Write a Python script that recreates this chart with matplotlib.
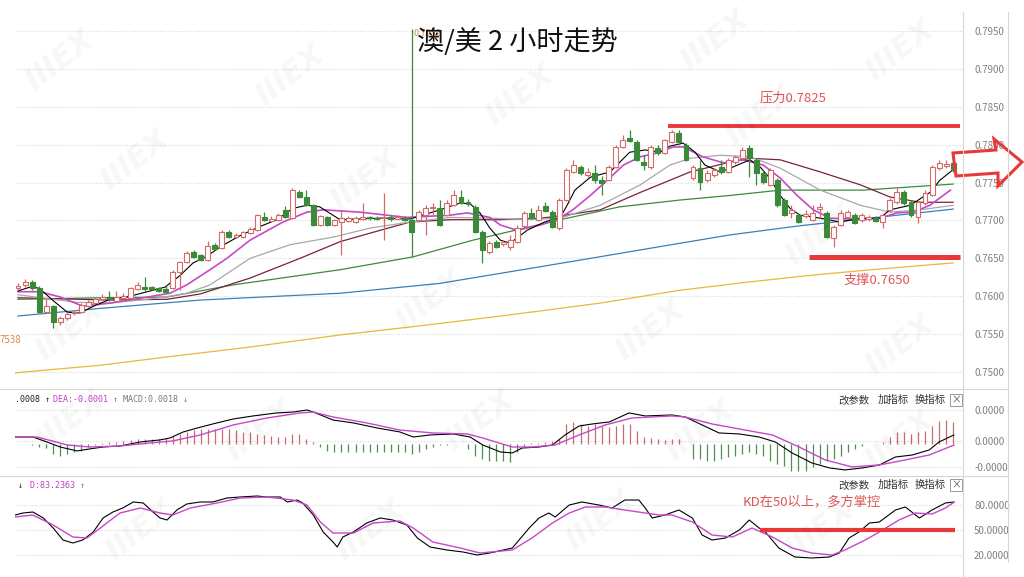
import matplotlib
matplotlib.use("Agg")
import matplotlib.pyplot as plt
from matplotlib.patches import Polygon, Rectangle
from matplotlib.lines import Line2D

plt.rcParams['font.family'] = ['Noto Sans CJK SC', 'DejaVu Sans']

# ---- candles (AUD/USD, 2h) ----
opens = [
    0.7611, 0.7615, 0.7619, 0.7611, 0.7579, 0.7587, 0.7566, 0.7571, 0.7578, 0.7579,
    0.7587, 0.7591, 0.7596, 0.7599, 0.7594, 0.7598, 0.7598, 0.7610, 0.7612, 0.7612,
    0.7611, 0.7610, 0.7611, 0.7632, 0.7645, 0.7658, 0.7654, 0.7648, 0.7668, 0.7664,
    0.7685, 0.7678, 0.7678, 0.7683, 0.7687, 0.7704, 0.7699, 0.7701, 0.7714, 0.7703,
    0.7737, 0.7731, 0.7720, 0.7694, 0.7704, 0.7694, 0.7698, 0.7699, 0.7698, 0.7702,
    0.7704, 0.7703, 0.7703, 0.7704, 0.7702, 0.7703, 0.7701, 0.7701, 0.7707, 0.7716,
    0.7716, 0.7707, 0.7720, 0.7731, 0.7724, 0.7718, 0.7685, 0.7658, 0.7672, 0.7669,
    0.7665, 0.7672, 0.7693, 0.7710, 0.7701, 0.7719, 0.7711, 0.7690, 0.7727, 0.7764,
    0.7771, 0.7760, 0.7763, 0.7753, 0.7753, 0.7771, 0.7797, 0.7809, 0.7804, 0.7777,
    0.7771, 0.7796, 0.7789, 0.7804, 0.7816, 0.7800, 0.7756, 0.7769, 0.7753, 0.7760,
    0.7771, 0.7764, 0.7777, 0.7782, 0.7796, 0.7780, 0.7763, 0.7747, 0.7753, 0.7727,
    0.7710, 0.7707, 0.7706, 0.7701, 0.7715, 0.7710, 0.7677, 0.7694, 0.7704, 0.7707,
    0.7701, 0.7702, 0.7703, 0.7698, 0.7714, 0.7724, 0.7737, 0.7724, 0.7704, 0.7723,
    0.7733, 0.7769, 0.7772, 0.7776]
highs = [
    0.7617, 0.7623, 0.7621, 0.7613, 0.7598, 0.7588, 0.7574, 0.7579, 0.7582, 0.7591,
    0.7595, 0.7599, 0.7603, 0.7607, 0.7607, 0.7604, 0.7612, 0.7619, 0.7625, 0.7613,
    0.7612, 0.7615, 0.7635, 0.7646, 0.7660, 0.7661, 0.7656, 0.7673, 0.7670, 0.7687,
    0.7687, 0.7683, 0.7686, 0.7691, 0.7708, 0.7711, 0.7706, 0.7710, 0.7719, 0.7743,
    0.7740, 0.7740, 0.7722, 0.7707, 0.7706, 0.7702, 0.7714, 0.7706, 0.7706, 0.7723,
    0.7706, 0.7706, 0.7736, 0.7707, 0.7707, 0.7706, 0.7952, 0.7714, 0.7720, 0.7723,
    0.7727, 0.7727, 0.7740, 0.7740, 0.7728, 0.7720, 0.7687, 0.7673, 0.7674, 0.7674,
    0.7681, 0.7694, 0.7712, 0.7716, 0.7720, 0.7724, 0.7714, 0.7730, 0.7769, 0.7780,
    0.7773, 0.7769, 0.7773, 0.7759, 0.7773, 0.7800, 0.7813, 0.7819, 0.7806, 0.7786,
    0.7800, 0.7800, 0.7808, 0.7819, 0.7819, 0.7802, 0.7773, 0.7780, 0.7766, 0.7769,
    0.7780, 0.7782, 0.7786, 0.7797, 0.7800, 0.7782, 0.7767, 0.7769, 0.7756, 0.7730,
    0.7720, 0.7710, 0.7714, 0.7720, 0.7723, 0.7712, 0.7694, 0.7714, 0.7714, 0.7710,
    0.7710, 0.7707, 0.7706, 0.7710, 0.7730, 0.7743, 0.7740, 0.7727, 0.7727, 0.7740,
    0.7773, 0.7780, 0.7780, 0.7780]
lows = [
    0.7608, 0.7612, 0.7608, 0.7578, 0.7578, 0.7558, 0.7562, 0.7569, 0.7575, 0.7578,
    0.7586, 0.7590, 0.7595, 0.7594, 0.7592, 0.7596, 0.7596, 0.7608, 0.7607, 0.7608,
    0.7606, 0.7604, 0.7610, 0.7608, 0.7644, 0.7650, 0.7646, 0.7646, 0.7661, 0.7662,
    0.7677, 0.7677, 0.7677, 0.7682, 0.7686, 0.7699, 0.7698, 0.7699, 0.7703, 0.7702,
    0.7730, 0.7719, 0.7693, 0.7693, 0.7693, 0.7693, 0.7654, 0.7698, 0.7697, 0.7701,
    0.7701, 0.7701, 0.7674, 0.7699, 0.7702, 0.7699, 0.7652, 0.7698, 0.7681, 0.7706,
    0.7693, 0.7706, 0.7719, 0.7722, 0.7719, 0.7683, 0.7644, 0.7656, 0.7664, 0.7666,
    0.7661, 0.7670, 0.7690, 0.7702, 0.7699, 0.7711, 0.7690, 0.7687, 0.7726, 0.7763,
    0.7760, 0.7757, 0.7749, 0.7733, 0.7752, 0.7769, 0.7796, 0.7804, 0.7778, 0.7767,
    0.7768, 0.7786, 0.7788, 0.7802, 0.7800, 0.7778, 0.7753, 0.7740, 0.7751, 0.7757,
    0.7761, 0.7763, 0.7774, 0.7780, 0.7757, 0.7747, 0.7748, 0.7745, 0.7718, 0.7706,
    0.7703, 0.7697, 0.7703, 0.7699, 0.7703, 0.7677, 0.7665, 0.7693, 0.7702, 0.7695,
    0.7698, 0.7699, 0.7698, 0.7690, 0.7711, 0.7722, 0.7720, 0.7704, 0.7697, 0.7720,
    0.7732, 0.7767, 0.7769, 0.7764]
closes = [
    0.7613, 0.7619, 0.7611, 0.7579, 0.7587, 0.7566, 0.7571, 0.7577, 0.7579, 0.7588,
    0.7592, 0.7596, 0.7599, 0.7596, 0.7599, 0.7600, 0.7611, 0.7615, 0.7610, 0.7610,
    0.7607, 0.7606, 0.7632, 0.7645, 0.7657, 0.7652, 0.7648, 0.7666, 0.7662, 0.7685,
    0.7678, 0.7681, 0.7685, 0.7689, 0.7707, 0.7701, 0.7702, 0.7707, 0.7704, 0.7740,
    0.7731, 0.7720, 0.7694, 0.7706, 0.7694, 0.7701, 0.7703, 0.7703, 0.7703, 0.7704,
    0.7703, 0.7702, 0.7704, 0.7702, 0.7704, 0.7701, 0.7685, 0.7711, 0.7716, 0.7718,
    0.7694, 0.7723, 0.7733, 0.7723, 0.7722, 0.7685, 0.7661, 0.7670, 0.7665, 0.7672,
    0.7674, 0.7690, 0.7710, 0.7703, 0.7714, 0.7712, 0.7691, 0.7727, 0.7767, 0.7773,
    0.7763, 0.7764, 0.7753, 0.7749, 0.7771, 0.7797, 0.7806, 0.7805, 0.7780, 0.7773,
    0.7797, 0.7789, 0.7806, 0.7817, 0.7804, 0.7780, 0.7771, 0.7751, 0.7763, 0.7767,
    0.7764, 0.7780, 0.7784, 0.7793, 0.7782, 0.7763, 0.7751, 0.7767, 0.7720, 0.7707,
    0.7714, 0.7698, 0.7708, 0.7710, 0.7718, 0.7678, 0.7691, 0.7710, 0.7711, 0.7697,
    0.7707, 0.7704, 0.7699, 0.7707, 0.7727, 0.7737, 0.7723, 0.7707, 0.7724, 0.7736,
    0.7771, 0.7776, 0.7774, 0.7767]

# ---- moving averages (read at sample bars) ----
ma5_x = [0, 2, 3.1, 4.9, 7, 8.8, 11, 13.1, 15.9, 18.8, 20.9, 23, 24.9, 26.9, 28.9, 31.6,
         33.9, 36.8, 39.1, 41.1, 42.9, 45.8, 51.5, 55.8, 60, 62.9, 64.3, 65.7, 67.1, 68.6,
         70, 72.4, 74.9, 77.1, 78.1, 79.2, 81.4, 84.2, 85.6, 87, 89.2, 91.3, 92.7, 94.6,
         96.3, 97.7, 99.9, 101.3, 104.1, 105.5, 106.9, 108.4, 109.8, 111.2, 114.1, 116.9,
         119.8, 122.6, 124, 126.9, 129.7, 131.1, 133]
ma5_y = [0.7607, 0.7613, 0.7610, 0.7595, 0.7579, 0.7578, 0.7588, 0.7596, 0.7600, 0.7607,
         0.7612, 0.7627, 0.7644, 0.7653, 0.7666, 0.7680, 0.7690, 0.7701, 0.7716, 0.7720,
         0.7718, 0.7701, 0.7703, 0.7702, 0.7714, 0.7723, 0.7722, 0.7710, 0.7690, 0.7674,
         0.7670, 0.7687, 0.7698, 0.7704, 0.7720, 0.7740, 0.7757, 0.7764, 0.7777, 0.7790,
         0.7793, 0.7790, 0.7798, 0.7802, 0.7790, 0.7773, 0.7764, 0.7769, 0.7780, 0.7771,
         0.7756, 0.7733, 0.7716, 0.7707, 0.7703, 0.7698, 0.7703, 0.7703, 0.7714, 0.7720,
         0.7737, 0.7753, 0.7767]
ma10_x = [0, 3.1, 6, 9.2, 13.1, 17.8, 21.6, 24, 27.3, 29.7, 33, 37.7, 41.1, 43.4, 48.6,
          55.3, 61.5, 63.9, 67.1, 68.6, 71, 74.3, 76.7, 78.9, 81.4, 83.8, 86.1, 88.5, 90.9,
          93.2, 94.6, 97.4, 100.3, 103.1, 106, 108.4, 110.8, 113.1, 115.5, 120.2, 122.6,
          125, 127.3, 129.7, 132.6]
ma10_y = [0.7606, 0.7606, 0.7599, 0.7587, 0.7591, 0.7598, 0.7604, 0.7615, 0.7635, 0.7650,
          0.7674, 0.7698, 0.7711, 0.7714, 0.7711, 0.7704, 0.7707, 0.7710, 0.7704, 0.7694,
          0.7687, 0.7694, 0.7701, 0.7714, 0.7733, 0.7753, 0.7773, 0.7784, 0.7789, 0.7797,
          0.7797, 0.7784, 0.7776, 0.7780, 0.7773, 0.7756, 0.7733, 0.7714, 0.7703, 0.7701,
          0.7703, 0.7710, 0.7711, 0.7720, 0.7740]
ma20_x = [0, 8.4, 13.1, 20.2, 24, 27.3, 33, 38.7, 44.8, 50.1, 55.8, 61.5, 67.1, 72.8, 77.1,
          82.8, 88.5, 92.7, 95.6, 99.9, 104.1, 108.4, 114.1, 119.8, 124, 128.3, 133]
ma20_y = [0.7602, 0.7592, 0.7591, 0.7598, 0.7604, 0.7615, 0.7650, 0.7668, 0.7678, 0.7690,
          0.7698, 0.7704, 0.7703, 0.7701, 0.7703, 0.7720, 0.7747, 0.7773, 0.7782, 0.7786,
          0.7784, 0.7769, 0.7740, 0.7720, 0.7711, 0.7714, 0.7720]
ma30_x = [0, 13.1, 21.2, 25.9, 33, 40.1, 45.8, 51.5, 55.8, 61.5, 68.6, 74.3, 77.1, 82.8,
          88.5, 95.6, 101.3, 104.1, 108.4, 114.1, 119.8, 124, 128.3, 133]
ma30_y = [0.7598, 0.7595, 0.7596, 0.7603, 0.7624, 0.7650, 0.7672, 0.7687, 0.7698, 0.7701,
          0.7701, 0.7703, 0.7706, 0.7714, 0.7737, 0.7764, 0.7777, 0.7782, 0.7780, 0.7764,
          0.7747, 0.7731, 0.7724, 0.7724]
ma60_x = [0, 11.7, 21.2, 30.6, 45.8, 56.2, 64.7, 77.1, 85.6, 94.2, 101.3, 108.4, 120.2, 133]
ma60_y = [0.7596, 0.7598, 0.7599, 0.7615, 0.7635, 0.7652, 0.7674, 0.7701, 0.7718, 0.7727,
          0.7733, 0.7740, 0.7740, 0.7748]
ma120_x = [0, 11.7, 25.9, 45.8, 60, 74.3, 81.4, 94.2, 101.3, 111.2, 121.2, 133]
ma120_y = [0.7574, 0.7584, 0.7595, 0.7604, 0.7617, 0.7639, 0.7650, 0.7670, 0.7681, 0.7693,
           0.7703, 0.7715]
ma250_x = [-0.4, 11.7, 21.2, 33, 45.8, 57.2, 69.6, 82.8, 94.2, 104.1, 113.1, 122.6, 133]
ma250_y = [0.7499, 0.7509, 0.7520, 0.7533, 0.7549, 0.7561, 0.7575, 0.7591, 0.7608, 0.7619,
           0.7628, 0.7636, 0.7644]

# ---- MACD ----
dif_x = [-0.4, 2.1, 4.1, 6.0, 8.4, 10.2, 12.1, 14.5, 17.4, 20.2, 21.6, 23.5, 25.5, 27.7,
         30.6, 33.4, 36.8, 39.1, 41.1, 42.0, 44.8, 47.7, 51.1, 54.3, 56.2, 58.6, 61.9, 64.3,
         66.1, 68.6, 70.3, 71.7, 74.1, 76.0, 77.8, 79.8, 81.7, 84.1, 86.9, 89.2, 93.0, 94.9,
         97.3, 99.7, 102.6, 105.4, 107.7, 110.1, 112.9, 115.4, 117.6, 120.1, 122.5, 124.8,
         127.2, 129.6, 131.0, 133.1]
dif_y = [0.00062, 0.00062, 0.00018, -0.00027, -0.00062, -0.00044, -0.00027, -0.00018,
         0.00018, 0.00036, 0.00053, 0.00107, 0.00142, 0.00178, 0.00222, 0.00249, 0.00276,
         0.00284, 0.00302, 0.00284, 0.00213, 0.00187, 0.00142, 0.00107, 0.00062, 0.00080,
         0.00089, 0.00062, -0.00009, -0.00071, -0.00080, -0.00036, -0.00027, -0.00009,
         0.00080, 0.00160, 0.00178, 0.00196, 0.00276, 0.00249, 0.00258, 0.00240, 0.00169,
         0.00098, 0.00089, 0.00062, 0.00018, -0.00080, -0.00169, -0.00213, -0.00231,
         -0.00213, -0.00187, -0.00116, -0.00098, -0.00053, 0.00018, 0.00080]
dea_x = [-0.4, 2.7, 7.0, 10.2, 14.5, 18.8, 22.0, 25.9, 30.6, 35.4, 40.1, 42.0, 44.8, 49.6,
         54.3, 59.0, 63.9, 66.1, 70.3, 73.1, 76.4, 79.8, 83.5, 87.3, 93.0, 94.9, 98.7, 103.4,
         107.3, 111.1, 114.8, 118.6, 122.5, 126.2, 129.6, 133.1]
dea_y = [0.00062, 0.00062, -0.00009, -0.00027, -0.00018, 0.00009, 0.00027, 0.00080, 0.00169,
         0.00231, 0.00276, 0.00284, 0.00240, 0.00187, 0.00124, 0.00098, 0.00089, 0.00053,
         -0.00027, -0.00027, -0.00009, 0.00080, 0.00169, 0.00231, 0.00249, 0.00240, 0.00178,
         0.00124, 0.00080, -0.00027, -0.00142, -0.00204, -0.00187, -0.00142, -0.00098,
         -0.00010]
macd_hist = [
    0, 0, -0.00009, -0.00027, -0.00036, -0.00090, -0.00108, -0.00090, -0.00072, -0.00063,
    -0.00027, -0.00009, 0.00009, 0.00018, 0.00018, 0.00027, 0.00036, 0.00045, 0.00045, 0.00045,
    0.00045, 0.00054, 0.00072, 0.00090, 0.00108, 0.00126, 0.00135, 0.00135, 0.00135, 0.00135,
    0.00135, 0.00126, 0.00108, 0.00108, 0.00090, 0.00081, 0.00072, 0.00063, 0.00063, 0.00090,
    0.00090, 0.00045, 0.00018, -0.00027, -0.00063, -0.00072, -0.00072, -0.00072, -0.00072, -0.00072,
    -0.00072, -0.00072, -0.00072, -0.00072, -0.00072, -0.00072, -0.00090, -0.00072, -0.00045, -0.00027,
    -0.00009, -0.00009, 0, 0, -0.00045, -0.00108, -0.00135, -0.00153, -0.00153, -0.00153,
    -0.00162, -0.00072, -0.00018, 0.00009, 0.00009, 0.00018, 0.00027, 0.00045, 0.00180, 0.00198,
    0.00180, 0.00162, 0.00180, 0.00162, 0.00153, 0.00162, 0.00180, 0.00180, 0.00117, 0.00063,
    0.00054, 0.00045, 0.00036, 0.00045, 0.00045, 0, -0.00135, -0.00135, -0.00153, -0.00153,
    -0.00135, -0.00117, -0.00108, -0.00090, -0.00072, -0.00090, -0.00108, -0.00153, -0.00180, -0.00198,
    -0.00243, -0.00243, -0.00243, -0.00207, -0.00180, -0.00153, -0.00135, -0.00108, -0.00072, -0.00045,
    -0.00018, 0, 0, 0.00018, 0.00063, 0.00108, 0.00108, 0.00090, 0.00108, 0.00117,
    0.00162, 0.00207, 0.00216, 0.00198]

# ---- KD ----
k_x = [-0.4, 0.7, 2.1, 3.6, 5.0, 6.4, 7.8, 9.2, 10.7, 12.1, 13.5, 14.9, 16.4, 17.8, 19.2,
       20.2, 21.2, 22.6, 24.0, 25.9, 27.7, 29.7, 31.6, 34.0, 35.4, 37.3, 38.3, 39.7, 40.5,
       42.0, 43.4, 44.8, 45.4, 46.2, 47.7, 49.6, 51.5, 53.3, 55.3, 56.8, 58.6, 61.0, 63.3,
       65.3, 67.1, 69.0, 70.3, 72.7, 74.1, 75.5, 76.4, 78.4, 80.2, 82.6, 84.5, 86.3, 88.3,
       89.2, 90.2, 92.0, 94.0, 95.9, 97.3, 98.7, 100.6, 102.6, 104.0, 105.4, 106.3, 108.2,
       110.5, 112.9, 115.4, 116.8, 118.2, 119.6, 121.1, 122.5, 124.8, 126.2, 128.2, 130.0,
       131.9, 133.1]
k_y = [68, 70.4, 71.6, 64.4, 52.4, 38, 34.4, 38, 47.6, 64.4, 71.6, 76.4, 83.6, 82.4, 71.6,
       64.4, 62, 74, 81.2, 83.6, 83.6, 88.4, 89.6, 90.8, 89.6, 89.6, 83.6, 86, 82.4, 68,
       47.6, 35.6, 29.6, 41.6, 47.6, 58.4, 64.4, 62, 56, 40.4, 29.6, 26, 23.6, 20, 22.4, 26,
       28.4, 52.4, 64.4, 70.4, 65.6, 80, 83.6, 80, 76.4, 86, 86, 76.4, 64.4, 68, 74, 64.4,
       44, 38, 40.4, 50, 62, 52.4, 47.6, 28.4, 17.6, 16.4, 17.6, 22.4, 40.4, 47.6, 58.4,
       59.6, 74, 77.6, 64.4, 74, 82.4, 83.6]
d_x = [-0.4, 2.1, 5.0, 7.8, 9.8, 11.7, 14.5, 17.4, 20.2, 22.0, 24.5, 28.3, 31.6, 35.4, 39.1,
       41.1, 43.0, 44.8, 47.7, 50.5, 54.3, 56.2, 59.0, 62.9, 65.7, 70.3, 73.1, 76.0, 78.4,
       80.7, 83.5, 86.3, 89.2, 91.2, 93.0, 95.9, 98.7, 101.6, 104.4, 107.3, 110.1, 112.9,
       115.8, 117.6, 120.5, 122.5, 125.3, 127.6, 130.0, 131.9, 133.1]
d_y = [65.6, 68, 56, 41.6, 40.4, 52.4, 70.4, 76.4, 70.4, 68, 76.4, 82.4, 88.4, 89.6, 86, 80,
       59.6, 46.4, 46.4, 58.4, 60.8, 52.4, 35.6, 28.4, 22.4, 26, 40.4, 58.4, 70.4, 77.6,
       77.6, 74, 70.4, 68, 68, 59.6, 44, 41.6, 52.4, 41.6, 28.4, 22.4, 20, 26, 38, 47.6, 62,
       70.4, 69.2, 76.4, 83.2]

price_ticks = [0.7950, 0.7900, 0.7850, 0.7800, 0.7750, 0.7700, 0.7650, 0.7600, 0.7550, 0.7500]
macd_ticks = [0.00302, 0.00027, -0.00204]
macd_tick_labels = ['0.0000', '0.0000', '-0.0000']
kd_ticks = [80, 50, 20]
resistance = 0.7825
support = 0.7652

W, H = 1024, 577
UP, DOWN = '#d46a6a', '#3a8a3a'
RED = '#e8393a'
XLIM = (-0.43, 134.4)


def rect(x0, y0, x1, y1):
    return [x0 / W, 1 - y1 / H, (x1 - x0) / W, (y1 - y0) / H]


def fx(x):
    return x / W


def fy(y):
    return 1 - y / H


fig = plt.figure(figsize=(W / 100, H / 100), dpi=100)
fig.patch.set_facecolor('white')

ax = fig.add_axes(rect(15, 15, 963, 388))
ax_macd = fig.add_axes(rect(15, 390, 963, 475))
ax_kd = fig.add_axes(rect(15, 478, 963, 566))

for a, ticks, labels in [(ax, price_ticks, ['%.4f' % t for t in price_ticks]),
                         (ax_macd, macd_ticks, macd_tick_labels),
                         (ax_kd, kd_ticks, ['%.4f' % t for t in kd_ticks])]:
    a.set_xlim(*XLIM)
    a.set_xticks([])
    a.yaxis.tick_right()
    a.set_yticks(ticks)
    a.set_yticklabels(labels)
    a.tick_params(axis='y', length=0, pad=8, labelsize=7, labelcolor='#808080')
    a.grid(axis='y', color='#d9d9d9', linestyle=(0, (1, 1.5)), linewidth=0.8)
    a.set_axisbelow(True)
    for s in a.spines.values():
        s.set_visible(False)
    a.patch.set_alpha(0)

ax.set_ylim(0.7479, 0.7971)
ax_macd.set_ylim(-0.00276, 0.0048)
ax_kd.set_ylim(6.8, 112.4)

# moving averages
ax.plot(ma250_x, ma250_y, color='#e8b838', lw=0.9, zorder=2)
ax.plot(ma120_x, ma120_y, color='#3a80b8', lw=0.9, zorder=2)
ax.plot(ma60_x, ma60_y, color='#3c8a3c', lw=0.9, zorder=2)
ax.plot(ma30_x, ma30_y, color='#7a2040', lw=0.9, zorder=2)
ax.plot(ma20_x, ma20_y, color='#a8a8a8', lw=0.9, zorder=2)
ax.plot(ma10_x, ma10_y, color='#c848c8', lw=1.2, zorder=2)
ax.plot(ma5_x, ma5_y, color='black', lw=0.8, zorder=2)

# candles
xs = list(range(len(closes)))
for i in xs:
    o, h, l, c = opens[i], highs[i], lows[i], closes[i]
    up = c >= o
    col = UP if up else DOWN
    ax.vlines(i, l, h, color=col, lw=0.9, zorder=3)
    ax.bar(i, max(abs(c - o), 0.00003), bottom=min(o, c), width=0.7,
           facecolor='white' if up else col, edgecolor=col, lw=0.8, zorder=4)

# resistance / support
ax.hlines(resistance, 92.5, 134.0, color=RED, lw=2.8, zorder=5)
ax.text(105.5, 0.7862, '压力0.7825', color='#e05555', fontsize=9.5, va='center', zorder=6)
ax.hlines(support, 112.5, 134.0, color=RED, lw=3.6, zorder=5)
ax.text(117.4, 0.7621, '支撑0.7650', color='#e05555', fontsize=9.5, va='center', zorder=6)

# MACD
for i in xs:
    v = macd_hist[i]
    if v != 0:
        ax_macd.vlines(i, 0, v, color='#c86a70' if v > 0 else '#4f8f4f', lw=0.9)
ax_macd.plot(dif_x, dif_y, color='black', lw=0.8)
ax_macd.plot(dea_x, dea_y, color='#c848c8', lw=1.0)

# KD
ax_kd.plot(k_x, k_y, color='black', lw=0.8)
ax_kd.plot(d_x, d_y, color='#c848c8', lw=1.0)
ax_kd.hlines(50, 105.5, 133.3, color=RED, lw=3.0, zorder=5)
ax_kd.text(103, 83.6, 'KD在50以上，多方掌控', color='#e05555', fontsize=9.5, va='center')

# frame lines
for seg in [((963, 963), (12, 577)), ((1008, 1008), (12, 562)),
            ((0, 1008), (389, 389)), ((0, 1008), (476, 476))]:
    fig.add_artist(Line2D([fx(seg[0][0]), fx(seg[0][1])], [fy(seg[1][0]), fy(seg[1][1])],
                          color='#d6d6d6', lw=0.8))

# watermarks
for (wx, wy) in [(60, 60), (290, 75), (520, 95), (715, 40), (900, 50), (135, 160),
                 (365, 180), (760, 115), (70, 330), (430, 300), (650, 330), (820, 235),
                 (900, 345), (70, 420), (260, 430), (480, 420), (700, 430), (900, 440),
                 (140, 530), (370, 530), (600, 520), (820, 530)]:
    fig.text(fx(wx), fy(wy), 'IIIEX', rotation=38, fontsize=22, fontweight='bold',
             fontstyle='italic', color='#000000', alpha=0.035, ha='center', va='center',
             family='DejaVu Sans')

# header texts
fig.text(fx(414), fy(33), '0.7952', color='#e08a3c', fontsize=6.5, va='center')
fig.text(fx(0), fy(340), '7538', color='#e08a3c', fontsize=7, va='center')
fig.text(fx(517), fy(42), '澳/美 2 小时走势', color='#111111', fontsize=19.5,
         ha='center', va='center')

mono = 'DejaVu Sans Mono'
fig.text(fx(15), fy(400), '.0008 ↑', color='#222222', fontsize=6, va='center', family=mono)
fig.text(fx(53), fy(400), 'DEA:-0.0001 ↑', color='#c040c0', fontsize=6, va='center', family=mono)
fig.text(fx(123), fy(400), 'MACD:0.0018 ↓', color='#777777', fontsize=6, va='center', family=mono)
fig.text(fx(18), fy(485), '↓', color='#222222', fontsize=6, va='center', family=mono)
fig.text(fx(30), fy(485), 'D:83.2363 ↑', color='#c040c0', fontsize=6, va='center', family=mono)

for yy in (400, 485):
    fig.text(fx(838), fy(yy), '改参数', color='#333333', fontsize=7.5, va='center')
    fig.text(fx(878), fy(yy), '加指标', color='#333333', fontsize=7.5, va='center')
    fig.text(fx(915), fy(yy), '换指标', color='#333333', fontsize=7.5, va='center')
    fig.add_artist(Rectangle((fx(950), fy(yy + 6)), 12 / W, 12 / H, fill=False,
                             edgecolor='#999999', lw=0.7))
    fig.text(fx(956), fy(yy), '×', color='#555555', fontsize=7, ha='center', va='center')

# hollow arrow at right
arrow_px = [(953, 153), (996, 150), (994, 139), (1022, 162), (998, 186), (998, 173), (956, 176)]
fig.add_artist(Polygon([(fx(x), fy(y)) for x, y in arrow_px], closed=True,
                       facecolor='none', edgecolor=RED, lw=2.2))

fig.savefig('out.png', dpi=100)
